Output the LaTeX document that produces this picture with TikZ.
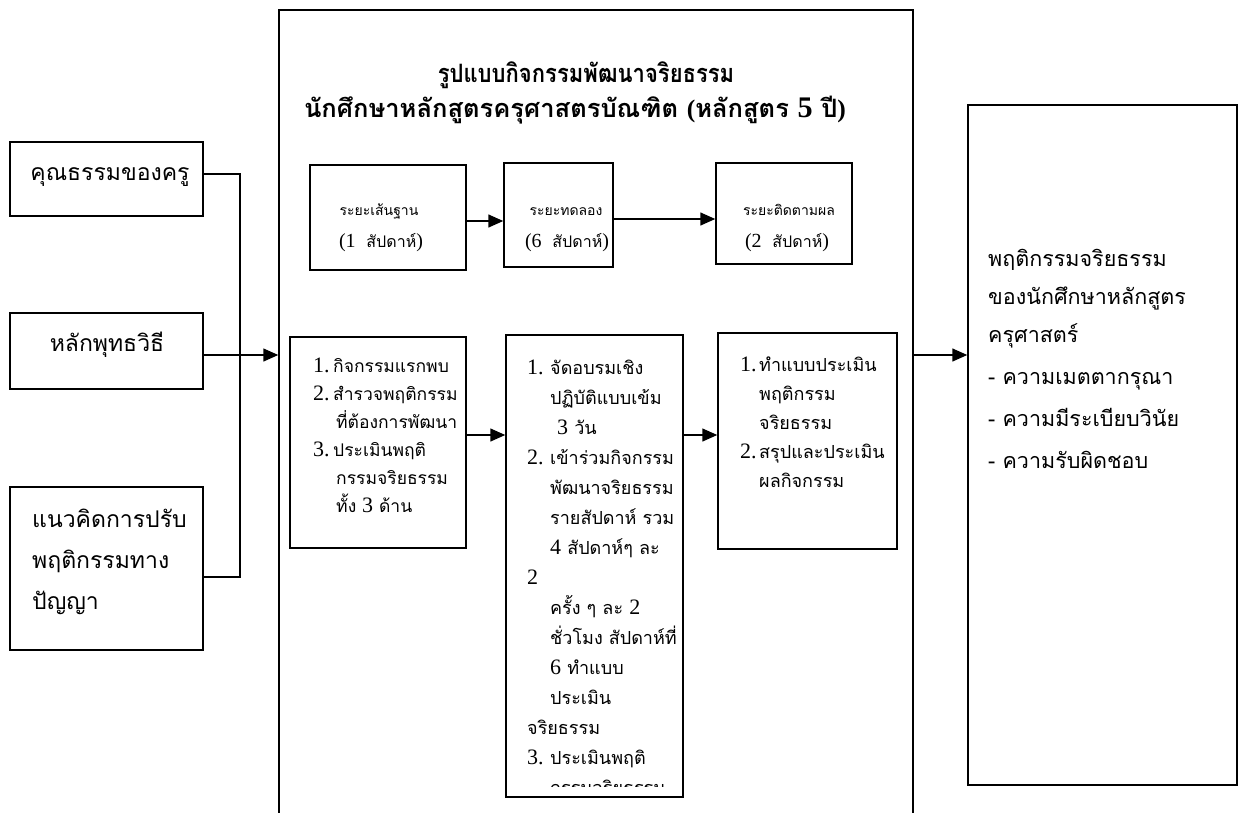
\documentclass[tikz,border=0pt]{standalone}
\usepackage{fontspec}
\setmainfont{Loma}[Script=Thai]
\newfontfamily\tnr{Liberation Serif}
\usetikzlibrary{arrows.meta,fit}
\newcommand{\nm}[1]{{\tnr\fontsize{22}{22}\selectfont #1}}
\newcommand{\itm}[2]{\makebox[#1][l]{\nm{#2}}}
\newcommand{\sn}[1]{{\tnr\fontsize{20}{20}\selectfont #1}}
\begin{document}
\begin{tikzpicture}[x=1pt,y=-1pt,
  box/.style={draw,line width=1.5pt,inner sep=0pt},
  conn/.style={line width=1.5pt},
  arr/.style={line width=1.5pt,-{Triangle[length=15pt,width=13pt]}},
  ttl/.style={font=\fontsize{22}{29}\selectfont\bfseries,inner sep=0pt,anchor=base},
  stg/.style={font=\fontsize{14}{30}\selectfont,inner sep=0pt,anchor=base},
  lst/.style={align=left,inner sep=0pt,anchor=north west},
  big/.style={font=\fontsize{23}{41}\selectfont,inner sep=0pt},
]
\useasboundingbox (0,0) rectangle (1240,812);
\clip (0,0) rectangle (1240,812);

% left inputs
\node[box, fit={(10,142) (203,216)}] (k1) {};
\node[box, fit={(10,313) (203,389)}] (k2) {};
\node[box, fit={(10,487) (203,650)}] (k3) {};
\node[big, anchor=base] (k1t) at (110,180) {คุณธรรมของครู};
\node[big, anchor=base] (k2t) at (107,351) {หลักพุทธวิธี};
\node[big, lst] (k3t) at (32,503) {\rule{0pt}{24pt}แนวคิดการปรับ\\พฤติกรรมทาง\\ปัญญา};

% main box
\node[box, fit={(279,10) (913,840)}] (main) {};
\node[ttl] (t1) at (586,82) {\scalebox{1}[1.15]{รูปแบบกิจกรรมพัฒนาจริยธรรม}};
\node[ttl] (t2) at (575,117) {\scalebox{1.16}[1.15]{นักศึกษาหลักสูตรครุศาสตรบัณฑิต {\tnr(}หลักสูตร {\tnr\fontsize{26}{26}\selectfont 5} ปี{\tnr)}}};

% stages
\node[box, fit={(310,165) (466,270)}] (sA) {};
\node[box, fit={(504,163) (613,267)}] (sB) {};
\node[box, fit={(716,163) (852,264)}] (sC) {};
\node[stg] (sA1) at (379,215) {ระยะเส้นฐาน};
\node[stg] (sA2) at (381,247) {\fontsize{16}{16}\selectfont\sn{(1}\ \ สัปดาห์\sn{)}};
\node[stg] (sB1) at (566,215) {ระยะทดลอง};
\node[stg] (sB2) at (567,247) {\fontsize{16}{16}\selectfont\sn{(6}\ \ สัปดาห์\sn{)}};
\node[stg] (sC1) at (789,215) {ระยะติดตามผล};
\node[stg] (sC2) at (787,247) {\fontsize{16}{16}\selectfont\sn{(2}\ \ สัปดาห์\sn{)}};
\coordinate (s1) at (0,221);
\coordinate (s2) at (0,219);
\draw[arr] (sA.east |- s1) -- (sB.west |- s1);
\draw[arr] (sB.east |- s2) -- (sC.west |- s2);

% activity boxes
\node[box, fit={(290,337) (466,548)}] (d) {};
\node[box, fit={(506,335) (683,797)}] (e) {};
\node[box, fit={(718,333) (897,549)}] (f) {};

\node[lst, font=\fontsize{17.5}{28}\selectfont] (dt) at (313,350) {\rule{0pt}{22pt}\itm{20pt}{1.}กิจกรรมแรกพบ\\
\itm{20pt}{2.}สำรวจพฤติกรรม\\
\hspace*{23pt}ที่ต้องการพัฒนา\\
\itm{20pt}{3.}ประเมินพฤติ\\
\hspace*{23pt}กรรมจริยธรรม\\
\hspace*{23pt}ทั้ง \nm{3} ด้าน};

\begin{scope}
\clip (506,335) rectangle (683,786);
\node[lst, font=\fontsize{18}{30}\selectfont] (et) at (527,352) {\rule{0pt}{22pt}\itm{23pt}{1.}จัดอบรมเชิง\\
\hspace*{23pt}ปฏิบัติแบบเข้ม\\
\hspace*{30pt}\nm{3} วัน\\
\itm{23pt}{2.}เข้าร่วมกิจกรรม\\
\hspace*{23pt}พัฒนาจริยธรรม\\
\hspace*{23pt}รายสัปดาห์ รวม\\
\hspace*{23pt}\nm{4} สัปดาห์ๆ ละ\\
\nm{2}\\
\hspace*{23pt}ครั้ง ๆ ละ \nm{2}\\
\hspace*{23pt}ชั่วโมง สัปดาห์ที่\\
\hspace*{23pt}\nm{6} ทำแบบ\\
\hspace*{23pt}ประเมิน\\
จริยธรรม\\
\itm{23pt}{3.}ประเมินพฤติ\\
\hspace*{23pt}กรรมจริยธรรม};
\end{scope}

\node[lst, font=\fontsize{18}{29}\selectfont] (ft) at (740,349) {\rule{0pt}{22pt}\itm{19pt}{1.}ทำแบบประเมิน\\
\hspace*{19pt}พฤติกรรม\\
\hspace*{19pt}จริยธรรม\\
\itm{19pt}{2.}สรุปและประเมิน\\
\hspace*{19pt}ผลกิจกรรม};

\coordinate (r1) at (0,435);
\draw[arr] (d.east |- r1) -- (e.west |- r1);
\draw[arr] (e.east |- r1) -- (f.west |- r1);

% connectors from inputs
\coordinate (j1) at (240,174);
\coordinate (j3) at (240,577);
\coordinate (r0) at (0,355);
\draw[conn] (k1.east |- j1) -- (j1) -- (j3) -- (k3.east |- j3);
\draw[arr] (k2.east |- r0) -- (main.west |- r0);

% result box
\node[box, fit={(968,105) (1237,785)}] (res) {};
\node[lst, font=\fontsize{21.5}{38}\selectfont] (rt) at (988,244) {\rule{0pt}{22pt}พฤติกรรมจริยธรรม\\
ของนักศึกษาหลักสูตร\\
ครุศาสตร์\\[4pt]
- ความเมตตากรุณา\\[4pt]
- ความมีระเบียบวินัย\\[4pt]
- ความรับผิดชอบ};
\draw[arr] (main.east |- r0) -- (res.west |- r0);
\end{tikzpicture}
\end{document}
